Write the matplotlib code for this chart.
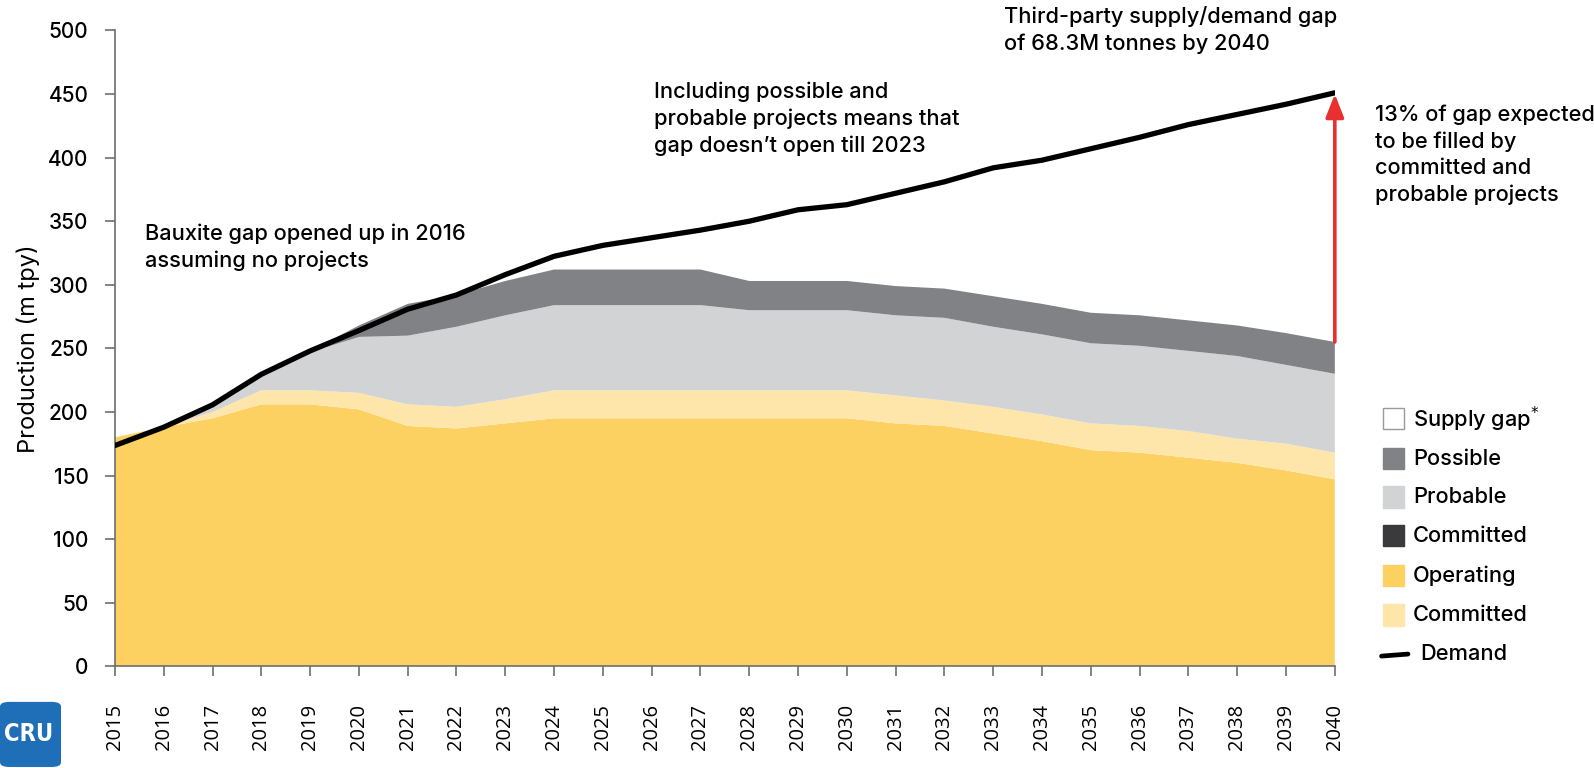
import matplotlib
matplotlib.use("Agg")
import matplotlib.pyplot as plt
import numpy as np
from matplotlib.patches import FancyBboxPatch, Rectangle
from matplotlib.lines import Line2D

plt.rcParams['font.family'] = ['Inter', 'Lato', 'DejaVu Sans']
plt.rcParams['font.weight'] = 'medium'

years = list(range(2015, 2041))
operating = [180, 188, 195, 206, 206, 202, 189, 187, 191, 195, 195, 195, 195,
             195, 195, 195, 191, 189, 183, 177, 170, 168, 164, 160, 154, 147]
committed = [0, 0, 5, 11, 11, 13, 17, 17, 19, 22, 22, 22, 22,
             22, 22, 22, 22, 20, 21, 21, 21, 21, 21, 19, 21, 21]
probable = [0, 0, 5, 13, 30, 44, 54, 63, 66, 67, 67, 67, 67,
            63, 63, 63, 63, 65, 63, 63, 63, 63, 63, 65, 62, 62]
possible = [0, 0, 0, 0, 1, 9, 25, 25, 27, 28, 28, 28, 28,
            23, 23, 23, 23, 23, 24, 24, 24, 24, 24, 24, 25, 25]
demand = [173.6, 188, 205.6, 229.6, 248, 264, 280.8, 292, 308, 322.4, 331, 337, 343,
          350, 359, 363, 372, 381, 392, 398, 407, 416, 426, 434, 442, 451]

legend_labels = ["Supply gap", "Possible", "Probable", "Committed", "Operating", "Committed", "Demand"]
yticks = [0, 50, 100, 150, 200, 250, 300, 350, 400, 450, 500]

C_OPER = "#FDD062"
C_COMM = "#FEE6AB"
C_PROB = "#D1D3D4"
C_POSS = "#808285"
C_COMM_DARK = "#3A3A3C"
C_RED = "#E8312F"

fig = plt.figure(figsize=(15.94, 7.68), dpi=100)
ax = fig.add_axes([0.0721, 0.1325, 0.7653, 0.8278])

ax.stackplot(years, operating, committed, probable, possible,
             colors=[C_OPER, C_COMM, C_PROB, C_POSS], linewidth=0)
ax.plot(years, demand, color="black", lw=3.8, solid_capstyle="round", zorder=5)

ax.set_xlim(2015, 2040)
ax.set_ylim(0, 500)
ax.set_xticks(years)
ax.set_xticklabels([str(y) for y in years], rotation=90, fontsize=14.5,
                   family=['Open Sans', 'DejaVu Sans'], fontweight='normal')
ax.set_yticks(yticks)
ax.set_yticklabels([str(v) for v in yticks], fontsize=15)
for s in ["top", "right"]:
    ax.spines[s].set_visible(False)
for s in ["left", "bottom"]:
    ax.spines[s].set_color("#6D6E71")
    ax.spines[s].set_linewidth(1.2)
ax.tick_params(axis="both", colors="#6D6E71", length=7, width=1.2, labelcolor="black")
ax.tick_params(axis="y", pad=12)
ax.tick_params(axis="x", pad=20)
ax.set_ylabel("Production (m tpy)", fontsize=17, labelpad=6)

# red arrow at 2040
top_supply = operating[-1] + committed[-1] + probable[-1] + possible[-1]
ax.annotate("", xy=(2040, demand[-1] - 1), xytext=(2040, top_supply),
            arrowprops=dict(arrowstyle="-|>,head_length=1.4,head_width=0.55",
                            color=C_RED, lw=2.6, shrinkA=0, shrinkB=0),
            zorder=6, annotation_clip=False)

tk = dict(fontsize=15.7, va="top", ha="left", linespacing=1.4, clip_on=False)
ax.text(2015.62, 348, "Bauxite gap opened up in 2016\nassuming no projects", **tk)
ax.text(2026.05, 460, "Including possible and\nprobable projects means that\ngap doesn\u2019t open till 2023", **tk)
ax.text(2033.23, 519, "Third-party supply/demand gap\nof 68.3M tonnes by 2040", **tk)
ax.text(2040.82, 442, "13% of gap expected\nto be filled by\ncommitted and\nprobable projects", **tk)

# legend (custom)
W, H = 1568, 755
colors = ["white", C_POSS, C_PROB, C_COMM_DARK, C_OPER, C_COMM]
ys = [412, 451, 489, 527, 566, 605]
for i, (lab, c, yy) in enumerate(zip(legend_labels[:-1], colors, ys)):
    ec = "#9A9A9A" if c == "white" else c
    fig.patches.append(Rectangle((1360 / W, 1 - (yy + 10) / H), 21 / W, 21 / H,
                                 transform=fig.transFigure, facecolor=c,
                                 edgecolor=ec, lw=1.0))
    txt = lab + "$^{*}$" if i == 0 else lab
    fig.text(1390 / W, 1 - yy / H, txt, fontsize=15.7, va="center", ha="left")
fig.lines.append(Line2D([1359 / W, 1385 / W], [1 - 645 / H, 1 - 643 / H],
                        transform=fig.transFigure, color="black", lw=3.4,
                        solid_capstyle="round"))
fig.text(1397 / W, 1 - 643 / H, legend_labels[-1], fontsize=15.7, va="center", ha="left")

# CRU logo
fig.patches.append(FancyBboxPatch((0 / W, 1 - 754 / H), 60 / W, 64 / H,
                                  boxstyle="round,pad=0,rounding_size=0.006",
                                  transform=fig.transFigure, facecolor="#1F6FB8",
                                  edgecolor="none"))
fig.text(28 / W, 1 - 722 / H, "CRU", fontsize=17, fontweight="bold", color="white",
         ha="center", va="center", family=['DejaVu Sans'], stretch="condensed")

fig.savefig("out.png", dpi=100)
